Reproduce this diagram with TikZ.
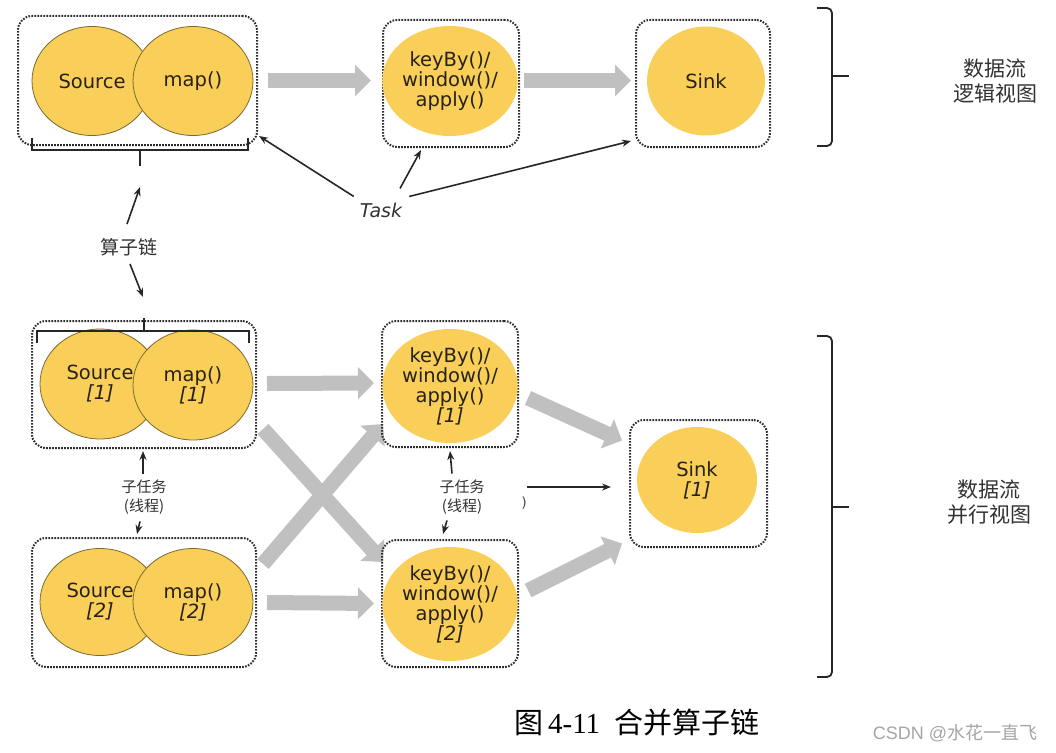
\documentclass[tikz,border=0pt]{standalone}
\usepackage{fontspec}
\setmainfont{DejaVu Sans}
\newfontfamily\cjk{Noto Sans CJK SC}
\newfontfamily\lserif{Liberation Serif}
\newfontfamily\lsans{Liberation Sans}
\usetikzlibrary{shapes.geometric,arrows.meta,backgrounds}
\definecolor{yel}{RGB}{249,207,90}
\definecolor{olivel}{RGB}{125,105,45}
\definecolor{agray}{RGB}{192,192,192}
\definecolor{boxline}{RGB}{45,45,45}
\definecolor{txt}{RGB}{40,34,20}
\definecolor{lab}{RGB}{50,50,50}
\definecolor{wm}{RGB}{165,165,165}
\tikzset{
  opbox/.style={draw=boxline, dash pattern=on 1.6pt off 1.4pt, line width=2pt, rounded corners=14pt, inner sep=0pt},
  op/.style={ellipse, fill=yel, draw=olivel, line width=0.8pt, inner sep=0pt, minimum width=120pt, minimum height=109pt, font=\fontsize{19.5}{20}\selectfont, text=txt, align=center},
  opn/.style={op, draw=none},
  fat/.style={draw=agray, line width=15pt, -{Triangle[length=16pt,width=31pt]}},
  blk/.style={draw=black!85, line width=1.6pt, -{Stealth[length=9pt,width=7pt]}},
  brk/.style={draw=black!85, line width=1.8pt},
  cjklab/.style={font=\cjk\fontsize{19}{22}\selectfont, text=lab, align=center, inner sep=0pt},
  sublab/.style={font=\cjk\fontsize{15}{19}\selectfont, text=lab, align=center, inner sep=0pt},
  viewlab/.style={font=\cjk\fontsize{21}{25}\selectfont, text=lab, align=center, inner sep=0pt}
}
\begin{document}
\begin{tikzpicture}[x=1pt,y=-1pt]
\useasboundingbox (0,0) rectangle (1056,752);

% ---------- logical view ----------
\node[opbox, minimum width=239pt, minimum height=129pt] (b1) at (137.5,80.5) {};
\node[op] (src) at (92,81) {Source};
\node[op] (map) at (193,81) {map()};
\node[opbox, minimum width=136pt, minimum height=127pt] (b2) at (451,83.5) {};
\node[opn, minimum height=110pt] (kb) at (450,81) {keyBy()/\\window()/\\apply()};
\node[opbox, minimum width=134pt, minimum height=127pt] (b3) at (703,83.5) {};
\node[opn, minimum width=118pt] (sink) at (706,81) {Sink};

% ---------- parallel view ----------
\node[opbox, minimum width=224pt, minimum height=127pt] (b4) at (144,384.5) {};
\node[op, minimum height=110pt] (srcA) at (100,384) {Source\\{\itshape [1]}};
\node[op, minimum height=110pt] (mapA) at (193,385) {map()\\{\itshape [1]}};
\node[opbox, minimum width=224pt, minimum height=129pt] (b5) at (144,602.5) {};
\node[op, minimum height=107pt] (srcB) at (100,602) {Source\\{\itshape [2]}};
\node[op, minimum height=107pt] (mapB) at (193,602) {map()\\{\itshape [2]}};
\node[opbox, minimum width=136pt, minimum height=126pt] (b6) at (450,384) {};
\node[opn, minimum width=118pt, minimum height=114pt] (kbA) at (450,386) {keyBy()/\\window()/\\apply()\\{\itshape [1]}};
\node[opbox, minimum width=136pt, minimum height=127pt] (b7) at (450,603.5) {};
\node[opn, minimum width=118pt, minimum height=114pt] (kbB) at (450,604) {keyBy()/\\window()/\\apply()\\{\itshape [2]}};
\node[opbox, minimum width=137pt, minimum height=127pt] (b8) at (698.5,483.5) {};
\node[opn, minimum width=120pt, minimum height=106pt] (sinkA) at (697,480) {Sink\\{\itshape [1]}};

% ---------- data-flow arrows (grey) ----------
\begin{scope}[on background layer]
\fill[white] (0,0) rectangle (1056,752);
\draw[fat] ([xshift=10pt]b1.east) -- ([xshift=-11pt]b2.west |- b1.east);
\draw[fat] ([xshift=4pt]b2.east |- b1.east) -- ([xshift=-4pt]b3.west |- b1.east);
\draw[fat] ([shift={(10,-1)}]b4.east) -- ([shift={(-7,-1)}]b6.west);
\draw[fat] ([shift={(10,0)}]b5.east) -- ([shift={(-7,0)}]b7.west);
\draw[fat] ([shift={(6,-20)}]b4.south east) -- ([shift={(2,23)}]b7.north west);
\draw[fat] ([shift={(6,27)}]b5.north east) -- ([shift={(2,-24)}]b6.south west);
\draw[fat] ([shift={(9,14)}]b6.east) -- ([shift={(-7,-43)}]b8.west);
\draw[fat] ([shift={(9,-13)}]b7.east) -- ([shift={(-7,60)}]b8.west);
\end{scope}

% ---------- brackets ----------
\draw[brk] (32,138) -- (32,150) -- (248,150) -- (248,138);
\coordinate (t1) at (140,166);
\draw[brk] (140,150) -- (t1);
\draw[brk] (37,343) -- (37,331) -- (249,331) -- (249,343);
\coordinate (t2) at (144,318);
\draw[brk] (144,331) -- (t2);

% right braces
\draw[brk, rounded corners=5pt] (817,8) -- (832,8) -- (832,146) -- (817,146);
\coordinate (r1) at (849,76);
\draw[brk] (832,76) -- (r1);
\draw[brk, rounded corners=5pt] (817,336) -- (832,336) -- (832,677) -- (817,677);
\coordinate (r2) at (849,507);
\draw[brk] (832,507) -- (r2);

% ---------- labels ----------
\node[font=\itshape\fontsize{19}{20}\selectfont, text=black!80, inner sep=0pt] (task) at (381,210) {Task};
\draw[blk] ([shift={(-6,-6)}]task.north west) -- ([shift={(1,-10)}]b1.south east);
\draw[blk] ([shift={(19,-14)}]task.north) -- ([shift={(-30,2)}]b2.south);
\draw[blk] ([shift={(7,-6)}]task.north east) -- ([shift={(-4,-7)}]b3.south west);

\node[cjklab] (chain) at (129,247) {算子链};
\draw[blk] ([shift={(-2,-14)}]chain.north) -- ([shift={(0,21)}]t1);
\draw[blk] ([shift={(1,8)}]chain.south) -- ([shift={(-1,-21)}]t2);

\node[sublab] (sub1) at (144,497) {子任务\\(线程)};
\draw[blk] ([shift={(-1,-6)}]sub1.north) -- ([shift={(-1,2)}]b4.south);
\draw[blk] ([shift={(-4,7)}]sub1.south) -- ([shift={(-7,-3)}]b5.north);

\node[sublab] (sub2) at (462,497) {子任务\\(线程)};
\draw[blk] ([shift={(-10,-6)}]sub2.north) -- ([shift={(0,3)}]b6.south);
\draw[blk] ([shift={(-15,6)}]sub2.south) -- ([shift={(-7,-5)}]b7.north);
\coordinate (hs) at (527,487);
\draw[blk] (hs) -- ([shift={(-18,3.5)}]b8.west);
\node[font=\fontsize{14}{14}\selectfont, text=black!70, inner sep=0pt] (paren) at (524,503) {)};

\node[viewlab] (lv) at (995,81) {数据流\\逻辑视图};
\node[viewlab] (pv) at (989,502) {数据流\\并行视图};

% caption
\node[inner sep=0pt, font=\fontsize{29}{30}\selectfont] (cap) at (637,722) {\cjk 图\,\lserif 4-11\ \ \cjk 合并算子链};
\node[inner sep=0pt, font=\lsans\fontsize{18}{20}\selectfont, text=wm] (wmk) at (955,733) {CSDN @\cjk 水花一直飞};
\end{tikzpicture}
\end{document}
